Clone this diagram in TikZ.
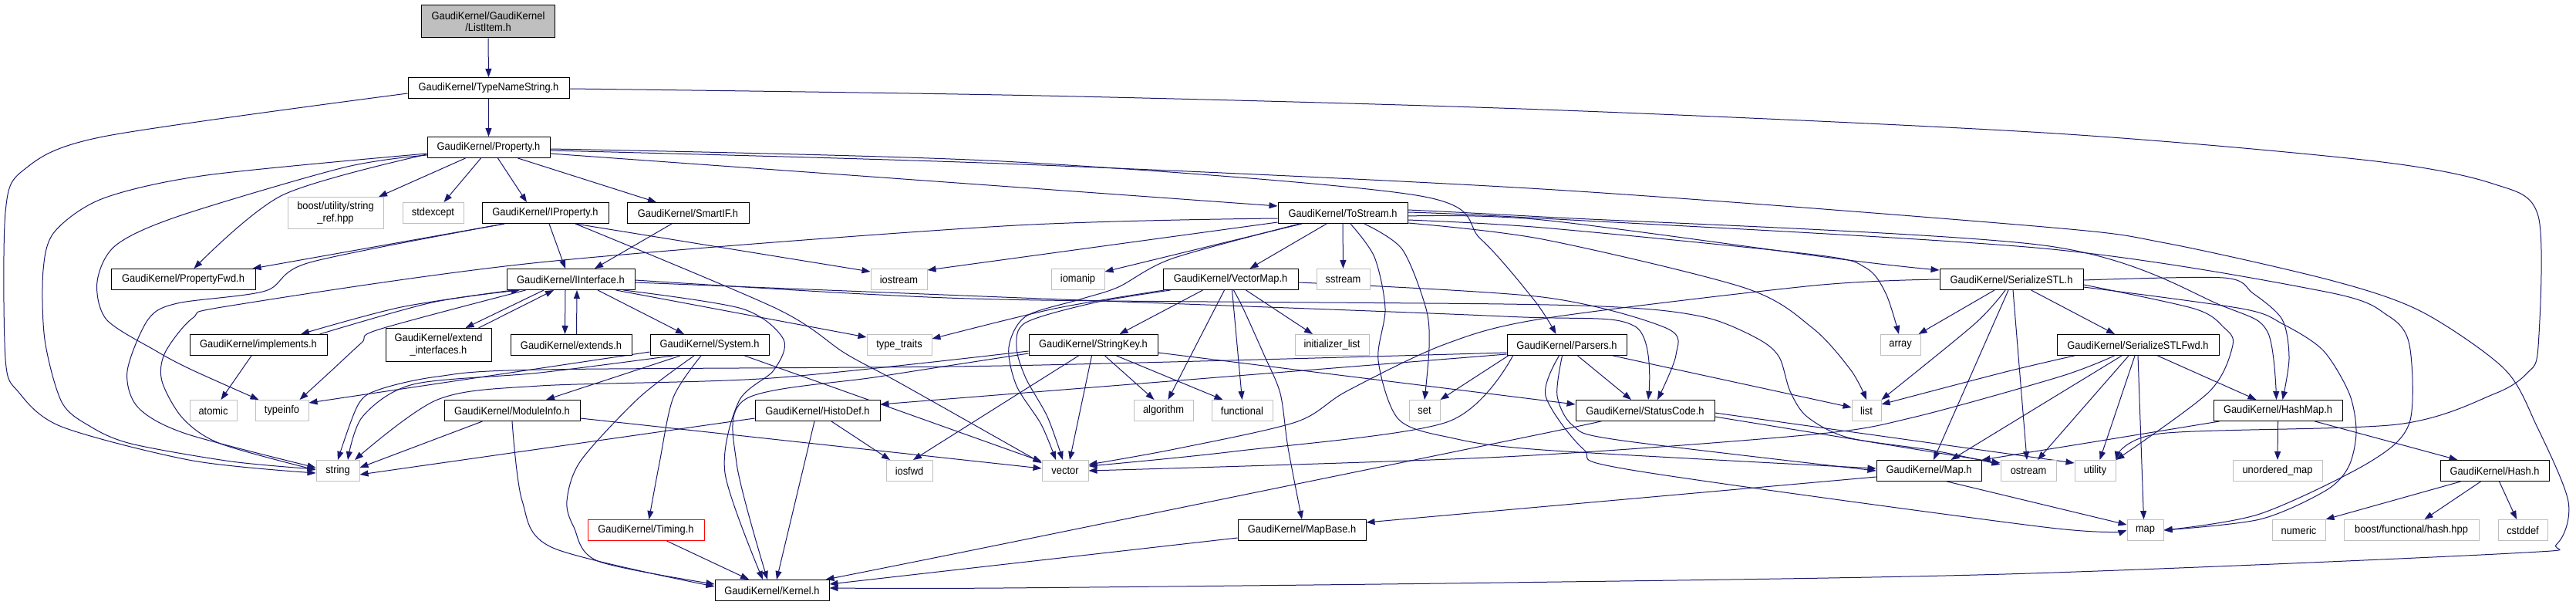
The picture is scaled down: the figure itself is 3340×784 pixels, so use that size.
\documentclass[tikz,border=0pt]{standalone}
\usepackage{fontspec}
\setmainfont{Liberation Sans}[FakeStretch=0.92]
\usetikzlibrary{arrows.meta,calc}
\definecolor{navyedge}{RGB}{25,25,112}
\definecolor{boxgray}{RGB}{191,191,191}
\pgfdeclarelayer{bgwhite}
\pgfdeclarelayer{edges}
\pgfsetlayers{bgwhite,edges,main}
\newcommand\hfont{\fontsize{14}{15.5}\selectfont}
\newcommand\dedge[1]{\draw[conn] plot[smooth,tension=0.5] coordinates {#1};}
\begin{document}
\begin{tikzpicture}[x=1pt,y=-1pt,
  hdr/.style={rectangle, draw=black, line width=1pt, fill=white, minimum height=27pt, inner sep=0pt, align=center, font=\hfont},
  ext/.style={hdr, draw=boxgray},
  conn/.style={draw=navyedge, line width=1pt, -{Triangle[length=11pt,width=8pt]}}]
\begin{pgfonlayer}{bgwhite}\fill[white] (0,0) rectangle (3340,784);\end{pgfonlayer}
\useasboundingbox (0,0) rectangle (3340,784);
% nodes
\node[hdr, fill=boxgray, minimum width=173pt, minimum height=42pt] (listitem) at (633,28) {GaudiKernel/GaudiKernel\\/ListItem.h};
\node[hdr, minimum width=209pt] (typenamestring) at (633.5,114) {GaudiKernel/TypeNameString.h};
\node[hdr, minimum width=159pt] (property) at (633.5,191) {GaudiKernel/Property.h};
\node[ext, minimum width=124pt, minimum height=41pt] (boost) at (435,276) {boost/utility/string\\\_ref.hpp};
\node[ext, minimum width=79pt] (stdexcept) at (561.5,276) {stdexcept};
\node[hdr, minimum width=164pt] (iproperty) at (707,276) {GaudiKernel/IProperty.h};
\node[hdr, minimum width=158pt] (smartif) at (892,276) {GaudiKernel/SmartIF.h};
\node[hdr, minimum width=168pt] (tostream) at (1741,276) {GaudiKernel/ToStream.h};
\node[hdr, minimum width=187pt] (propertyfwd) at (237.5,362) {GaudiKernel/PropertyFwd.h};
\node[hdr, minimum width=166pt] (iinterface) at (740,362) {GaudiKernel/IInterface.h};
\node[ext, minimum width=73pt] (iostream) at (1165.5,362) {iostream};
\node[ext, minimum width=69pt] (iomanip) at (1397.5,362) {iomanip};
\node[hdr, minimum width=175pt] (vectormap) at (1595.5,362) {GaudiKernel/VectorMap.h};
\node[ext, minimum width=69pt] (sstream) at (1741.5,362) {sstream};
\node[hdr, minimum width=186pt] (serializestl) at (2608,362) {GaudiKernel/SerializeSTL.h};
\node[hdr, minimum width=178pt] (implements) at (335,447) {GaudiKernel/implements.h};
\node[hdr, minimum width=137pt, minimum height=43pt] (extendif) at (568.5,447) {GaudiKernel/extend\\\_interfaces.h};
\node[hdr, minimum width=157pt] (extends) at (740.5,447) {GaudiKernel/extends.h};
\node[hdr, minimum width=154pt] (system) at (920,447) {GaudiKernel/System.h};
\node[ext, minimum width=84pt] (typetraits) at (1166,447) {type\_traits};
\node[hdr, minimum width=167pt] (stringkey) at (1417.5,447) {GaudiKernel/StringKey.h};
\node[ext, minimum width=96pt] (initlist) at (1727,447) {initializer\_list};
\node[hdr, minimum width=155pt] (parsers) at (2031.5,447) {GaudiKernel/Parsers.h};
\node[ext, minimum width=52pt] (array) at (2464,447) {array};
\node[hdr, minimum width=210pt] (stlfwd) at (2772,447) {GaudiKernel/SerializeSTLFwd.h};
\node[ext, minimum width=61pt] (atomic) at (276.5,532) {atomic};
\node[ext, minimum width=69pt] (typeinfo) at (365.5,532) {typeinfo};
\node[hdr, minimum width=176pt] (moduleinfo) at (664,532) {GaudiKernel/ModuleInfo.h};
\node[hdr, minimum width=162pt] (histodef) at (1060,532) {GaudiKernel/HistoDef.h};
\node[ext, minimum width=77pt] (algorithm) at (1508.5,532) {algorithm};
\node[ext, minimum width=79pt] (functional) at (1610.5,532) {functional};
\node[ext, minimum width=40pt] (set) at (1847,532) {set};
\node[hdr, minimum width=180pt] (statuscode) at (2133,532) {GaudiKernel/StatusCode.h};
\node[ext, minimum width=38pt] (list) at (2420,532) {list};
\node[hdr, minimum width=167pt] (hashmap) at (2953.5,532) {GaudiKernel/HashMap.h};
\node[ext, minimum width=56pt] (string) at (438,610) {string};
\node[ext, minimum width=60pt] (iosfwd) at (1179,610) {iosfwd};
\node[ext, minimum width=60pt] (vector) at (1381,610) {vector};
\node[hdr, minimum width=136pt] (maph) at (2501,610) {GaudiKernel/Map.h};
\node[ext, minimum width=72pt] (ostream) at (2630,610) {ostream};
\node[ext, minimum width=53pt] (utility) at (2716.5,610) {utility};
\node[ext, minimum width=116pt] (unorderedmap) at (2953,610) {unordered\_map};
\node[hdr, minimum width=141pt] (hash) at (3234.5,610) {GaudiKernel/Hash.h};
\node[hdr, draw=red, minimum width=151pt] (timing) at (837.5,687) {GaudiKernel/Timing.h};
\node[hdr, minimum width=166pt] (mapbase) at (1688,687) {GaudiKernel/MapBase.h};
\node[ext, minimum width=47pt] (stdmap) at (2781.5,687) {map};
\node[ext, minimum width=69pt] (numeric) at (2980.5,687) {numeric};
\node[ext, minimum width=175pt] (boosthash) at (3126.5,687) {boost/functional/hash.hpp};
\node[ext, minimum width=64pt] (cstddef) at (3271,687) {cstddef};
\node[hdr, minimum width=148pt] (kernel) at (1001,765) {GaudiKernel/Kernel.h};
% edges
\begin{pgfonlayer}{edges}
\draw[conn] (listitem.south) -- (typenamestring.north);
\draw[conn] (typenamestring.south) -- (property.north);
\dedge{($(typenamestring.west)+(0,7)$) (134,177) (31,220) (7,275) (7,465) (24,508) (80,553) (250,597) ($(string.west)+(0,3)$)}
\dedge{($(typenamestring.east)+(0,1)$) (1350,124) (2000,142) (2650,172) (3072,208) (3232,238) (3291,280) (3291,449) (3277,483) (3235,510) (3108,550) (2800,562) (utility.north east)}
% Property
\dedge{($(property.west)+(0,8)$) (268,227) (134,257) (71,300) (56,350) (58,440) (80,521) (116,552) (170,575) (300,598) ($(string.west)+(0,-2)$)}
\dedge{($(property.west)+(0,9)$) (366,253) ($(propertyfwd.north)+(14,0)$)}
\dedge{($(property.west)+(0,10)$) (446,217) (232,280) (150,318) (126,365) (138,414) (201,454) (246,478) ($(typeinfo.north)+(-30,0)$)}
\draw[conn] ($(property.south)+(-30,0)$) -- ($(boost.north)+(56,0)$);
\draw[conn] ($(property.south)+(-10,0)$) -- ($(stdexcept.north)+(14,0)$);
\draw[conn] ($(property.south)+(12,0)$) -- ($(iproperty.north)+(-24,0)$);
\draw[conn] ($(property.south)+(38,0)$) -- ($(smartif.north)+(-41,0)$);
\draw[conn] ($(property.east)+(0,8)$) -- ($(tostream.west)+(0,-9)$);
\dedge{($(property.east)+(0,2)$) (1300,209) (1836,253) (1920,310) (1990,390) ($(parsers.north)+(-14,0)$)}
\dedge{($(property.east)+(0,4)$) (1300,212) (2000,245) (2650,294) (2808,315) (3025,364) (3140,404) (3247,478) (3289,552) (3330,650) (3315,705) (3256,717) (2600,744) (1950,755) (1300,762) ($(kernel.east)+(0,-3)$)}
% IProperty, SmartIF
\draw[conn] ($(iproperty.south)+(-53,0)$) -- ($(propertyfwd.north east)+(-4,0)$);
\draw[conn] ($(iproperty.south)+(5,0)$) -- ($(iinterface.north)+(-7,0)$);
\draw[conn] ($(iproperty.south)+(39,0)$) -- ($(iostream.west)+(0,-10)$);
\dedge{($(iproperty.south)+(39,0)$) (1007,400) (1096,458) (1168,497) ($(vector.west)+(0,-10)$)}
\dedge{($(iproperty.south)+(-53,0)$) (402,340) (344,377) (230,393) (192,414) (165,481) (179,528) (241,562) ($(string.west)+(0,-4)$)}
\draw[conn] ($(smartif.south)+(-21,0)$) -- ($(iinterface.north)+(31,0)$);
% ToStream
\dedge{($(tostream.west)+(0,7)$) (1300,293) (700,340) (300,396) (250,412) (214,457) (210,494) (237,542) (286,575) ($(string.west)+(0,-1)$)}
\draw[conn] ($(tostream.west)+(0,12)$) -- ($(iostream.east)+(0,-12)$);
\draw[conn] ($(tostream.south)+(-53,0)$) -- ($(iomanip.east)+(0,-10)$);
\dedge{($(tostream.south)+(-56,0)$) (1520,335) (1450,372) (1400,388) (1330,410) (1308,450) (1318,500) (1350,550) ($(vector.north)+(-12,0)$)}
\draw[conn] ($(tostream.south)+(-21,0)$) -- ($(vectormap.north)+(25,0)$);
\draw[conn] (tostream.south) -- (sstream.north);
\dedge{($(tostream.south)+(28,0)$) (1818,323) (1849,400) (1853,450) (set.north)}
\dedge{($(tostream.south)+(10,0)$) (1782,333) (1796,400) (1787,467) (1813,543) (1880,567) (2000,583) ($(maph.west)+(0,-3)$)}
\dedge{($(tostream.east)+(0,4)$) (2000,285) (2396,337) ($(serializestl.west)+(0,-12)$)}
\dedge{($(tostream.east)+(0,9)$) (2000,295) (2352,330) (2419,347) (2445,380) ($(array.north)+(-2,0)$)}
\dedge{($(tostream.east)+(0,13)$) (2000,310) (2262,373) (2350,425) (2400,480) (list.north)}
\dedge{($(tostream.east)+(0,-4)$) (2000,281) (2650,318) (2883,397) (2940,430) ($(hashmap.north)+(-2,0)$)}
\dedge{($(tostream.east)+(0,-1)$) (2000,283) (2650,322) (3015,378) (3096,409) (3124,447) (3124,548) (3072,599) (2930,666) (stdmap.east)}
% VectorMap
\draw[conn] ($(vectormap.south)+(-36,0)$) -- ($(stringkey.north)+(34,0)$);
\draw[conn] ($(vectormap.south)+(-8,0)$) -- ($(algorithm.north)+(6,0)$);
\draw[conn] ($(vectormap.south)+(2,0)$) -- (functional.north);
\draw[conn] ($(vectormap.south)+(20,0)$) -- ($(initlist.north)+(-25,0)$);
\dedge{($(vectormap.south)+(4,0)$) (1612,400) (1639,460) (1660,510) (1670,580) (mapbase.north)}
\dedge{($(vectormap.east)+(0,4)$) (2000,385) (2160,425) (2173,460) ($(statuscode.north)+(16,0)$)}
\dedge{($(vectormap.south west)+(2,0)$) (1367,400) ($(typetraits.east)+(0,-8)$)}
\dedge{($(vectormap.south west)+(10,0)$) (1420,392) (1330,418) (1318,450) (1330,490) (1358,540) ($(vector.north)+(-3,0)$)}
% IInterface
\dedge{($(iinterface.south)+(-75,0)$) (520,398) ($(implements.north)+(55,0)$)}
\dedge{($(implements.north east)+(-10,0)$) (560,392) ($(iinterface.south)+(-66,0)$)}
\draw[conn] ($(iinterface.south)+(-35,0)$) -- ($(extendif.north)+(35,0)$);
\draw[conn] ($(extendif.north)+(52,0)$) -- ($(iinterface.south)+(-22,0)$);
\draw[conn] ($(iinterface.south)+(-7,0)$) -- ($(extends.north)+(-8,0)$);
\draw[conn] ($(extends.north)+(7,0)$) -- ($(iinterface.south)+(8,0)$);
\draw[conn] ($(iinterface.south)+(35,0)$) -- ($(system.north)+(-33,0)$);
\draw[conn] ($(iinterface.south east)+(-25,0)$) -- ($(typetraits.west)+(0,-10)$);
\dedge{($(iinterface.south west)+(25,0)$) (491,427) (469,444) (429,481) ($(typeinfo.north east)+(-12,0)$)}
\dedge{($(iinterface.south east)+(-15,0)$) (962,400) (1016,440) (1003,480) (958,520) (940,613) ($(kernel.north)+(-12,0)$)}
\dedge{($(iinterface.east)+(0,4)$) (1350,387) (1950,410) (2120,423) ($(statuscode.north)+(4,0)$)}
\dedge{($(iinterface.east)+(0,1)$) (1120,381) (1350,389) (1950,394) (2129,400) (2218,413) (2281,440) (2307,463) (2321,507) (2343,540) (2396,567) (2508,584) ($(ostream.west)+(0,-8)$)}
% System
\draw[conn] ($(system.south)+(-38,0)$) -- ($(moduleinfo.north)+(44,0)$);
\dedge{($(system.south)+(-11,0)$) (873,515) (855,600) ($(timing.north)+(4,0)$)}
\dedge{($(system.south)+(-20,0)$) (829,515) (753,597) (735,649) (744,683) (775,727) ($(kernel.west)+(0,-8)$)}
\draw[conn] ($(system.south east)+(-32,0)$) -- ($(vector.west)+(0,-12)$);
\dedge{($(system.south west)+(30,0)$) (700,483) (536,498) (470,540) ($(string.north)+(13,0)$)}
\draw[conn] ($(system.west)+(0,9)$) -- ($(typeinfo.east)+(0,-10)$);
% ModuleInfo, Timing, HistoDef
\draw[conn] ($(moduleinfo.south west)+(50,0)$) -- ($(string.east)+(0,-4)$);
\dedge{(moduleinfo.south) (677,649) (717,710) ($(kernel.west)+(0,-5)$)}
\draw[conn] ($(moduleinfo.east)+(0,10)$) -- ($(vector.west)+(0,-3)$);
\draw[conn] ($(timing.south)+(27,0)$) -- ($(kernel.north)+(-30,0)$);
\draw[conn] ($(histodef.west)+(0,10)$) -- ($(string.east)+(0,5)$);
\draw[conn] ($(histodef.south)+(18,0)$) -- ($(iosfwd.north)+(-25,0)$);
\draw[conn] ($(histodef.south)+(-4,0)$) -- ($(kernel.north)+(6,0)$);
% StringKey
\dedge{($(stringkey.west)+(0,8)$) (1000,490) (700,500) (567,518) ($(string.north)+(22,0)$)}
\dedge{($(stringkey.west)+(0,11)$) (1140,488) (967,517) (955,600) ($(kernel.north)+(-6,0)$)}
\draw[conn] ($(stringkey.south west)+(65,0)$) -- ($(iosfwd.north)+(5,0)$);
\draw[conn] ($(stringkey.south)+(15,0)$) -- ($(algorithm.north)+(-12,0)$);
\draw[conn] ($(stringkey.south)+(30,0)$) -- ($(functional.north)+(-25,0)$);
\draw[conn] ($(stringkey.south)+(-2,0)$) -- ($(vector.north)+(6,0)$);
\draw[conn] ($(stringkey.east)+(0,10)$) -- ($(statuscode.west)+(0,-8)$);
% Parsers
\draw[conn] ($(parsers.west)+(0,12)$) -- ($(histodef.east)+(0,-8)$);
\dedge{($(parsers.west)+(0,10)$) (1300,474) (700,479) (567,488) (491,505) (464,525) (string.north)}
\draw[conn] ($(parsers.south)+(14,0)$) -- ($(statuscode.north)+(-18,0)$);
\draw[conn] ($(parsers.south east)+(-18,0)$) -- ($(list.west)+(0,-4)$);
\draw[conn] ($(parsers.south west)+(2,0)$) -- (set.north east);
\dedge{($(parsers.south west)+(8,0)$) (1876,547) (1600,585) ($(vector.east)+(0,-6)$)}
\dedge{($(parsers.south)+(-6,0)$) (2019,513) (2040,552) (2097,570) ($(maph.west)+(0,0)$)}
\dedge{($(parsers.south)+(-10,0)$) (2004,513) (2053,582) (2115,609) (2650,683) (stdmap.west)}
% StatusCode, Map, MapBase
\draw[conn] ($(statuscode.east)+(0,8)$) -- ($(ostream.west)+(0,-10)$);
\draw[conn] ($(statuscode.east)+(0,3)$) -- ($(utility.west)+(0,-10)$);
\dedge{($(statuscode.south west)+(30,0)$) (2000,562) (1300,705) ($(kernel.north east)+(-5,0)$)}
\draw[conn] ($(maph.west)+(0,8)$) -- ($(mapbase.east)+(0,-10)$);
\draw[conn] ($(maph.south east)+(-45,0)$) -- ($(stdmap.west)+(0,-7)$);
\draw[conn] ($(mapbase.west)+(0,10)$) -- ($(kernel.east)+(0,-8)$);
% SerializeSTL
\draw[conn] ($(serializestl.south)+(-22,0)$) -- ($(array.north east)+(-3,0)$);
\dedge{($(serializestl.south)+(-8,0)$) (2560,420) (list.north east)}
\draw[conn] ($(serializestl.south)+(-4,0)$) -- ($(maph.north)+(6,0)$);
\draw[conn] ($(serializestl.south)+(2,0)$) -- ($(ostream.north)+(-2,0)$);
\draw[conn] ($(serializestl.south east)+(-68,0)$) -- ($(stlfwd.north)+(-30,0)$);
\dedge{(serializestl.west) (2352,370) (2000,413) (1871,447) (1746,507) (1680,547) (1523,582) ($(vector.east)+(0,-8)$)}
\dedge{($(serializestl.east)+(0,1)$) (2883,360) (2921,380) (2959,414) (2968,464) ($(hashmap.north)+(6,0)$)}
\dedge{($(serializestl.east)+(0,7)$) (2845,400) (2883,424) (2895,447) (2864,508) (utility.north east)}
\dedge{($(serializestl.east)+(0,10)$) (2907,400) (2960,420) (3012,454) (3046,510) (3055,560) (3045,605) (3015,636) (2930,673) (stdmap.east)}
% SerializeSTLFwd
\dedge{($(stlfwd.south west)+(23,0)$) (2600,482) ($(list.east)+(0,-8)$)}
\dedge{($(stlfwd.south west)+(75,0)$) (2671,488) (2480,541) (2350,563) (1950,592) ($(vector.east)+(0,0)$)}
\draw[conn] ($(stlfwd.south)+(-21,0)$) -- ($(maph.north east)+(-40,0)$);
\draw[conn] ($(stlfwd.south)+(-12,0)$) -- ($(ostream.north)+(12,0)$);
\draw[conn] ($(stlfwd.south)+(-4,0)$) -- ($(utility.north)+(6,0)$);
\draw[conn] (stlfwd.south) -- ($(stdmap.north)+(-2,0)$);
\draw[conn] ($(stlfwd.south east)+(-80,0)$) -- ($(hashmap.north)+(-28,0)$);
% HashMap, Hash, implements
\draw[conn] (hashmap.south) -- (unorderedmap.north);
\draw[conn] ($(hashmap.south east)+(-36,0)$) -- ($(hash.north)+(-48,0)$);
\dedge{($(hashmap.south west)+(8,0)$) (2700,575) (maph.north east)}
\draw[conn] ($(hash.south west)+(27,0)$) -- (numeric.north east);
\draw[conn] ($(hash.south)+(-18,0)$) -- ($(boosthash.north)+(17,0)$);
\draw[conn] ($(hash.south)+(6,0)$) -- ($(cstddef.north)+(-8,0)$);
\draw[conn] ($(implements.south)+(-9,0)$) -- ($(atomic.north)+(10,0)$);
\end{pgfonlayer}
\end{tikzpicture}
\end{document}
